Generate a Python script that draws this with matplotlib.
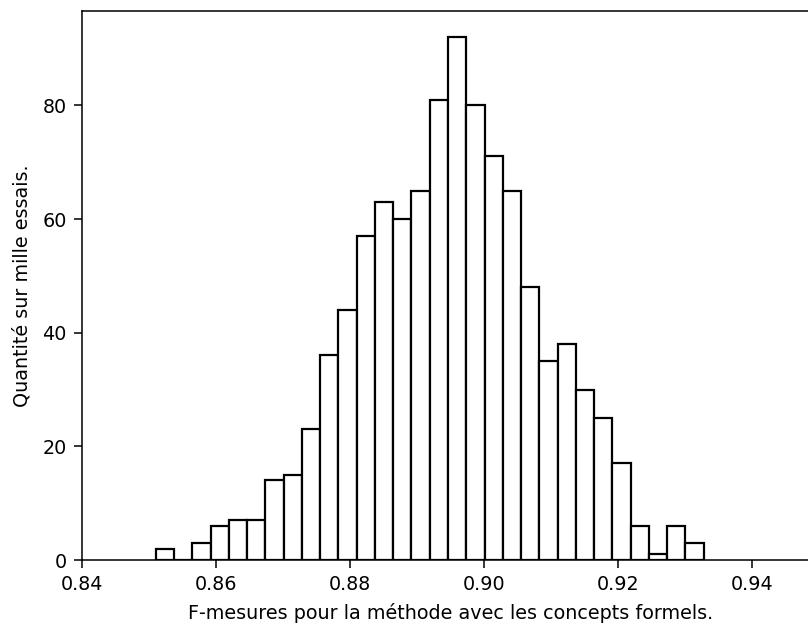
import numpy as np
import matplotlib.pyplot as plt

# histogram of F-measures over 1000 trials, 30 bins
bin_start = 0.8510
bin_end = 0.9328
counts = [2, 0, 3, 6, 7, 7, 14, 15, 23, 36, 44, 57, 63, 60, 65,
          81, 92, 80, 71, 65, 48, 35, 38, 30, 25, 17, 6, 1, 6, 3]
xticks = [0.84, 0.86, 0.88, 0.90, 0.92, 0.94]
yticks = [0, 20, 40, 60, 80]

edges = np.linspace(bin_start, bin_end, len(counts) + 1)
centers = (edges[:-1] + edges[1:]) / 2

plt.rcParams['font.size'] = 13.8
plt.rcParams['axes.linewidth'] = 1.1

fig = plt.figure(figsize=(8.08, 6.23), dpi=100)
ax = fig.add_axes([82/808, 63/623, (819-82)/808, (560-11)/623])
ax.hist(centers, bins=edges, weights=counts, facecolor='white',
        edgecolor='black', linewidth=1.6)
ax.set_xlim(0.84, 0.95)
ax.set_ylim(0, max(counts) * 1.05)
ax.set_xticks(xticks)
ax.set_xticklabels(['%.2f' % t for t in xticks])
ax.set_yticks(yticks)
ax.tick_params(width=1.1, length=6, pad=5)
ax.set_xlabel('F-mesures pour la méthode avec les concepts formels.', labelpad=6)
ax.set_ylabel('Quantité sur mille essais.', labelpad=8)

fig.savefig('out.png', dpi=100)
